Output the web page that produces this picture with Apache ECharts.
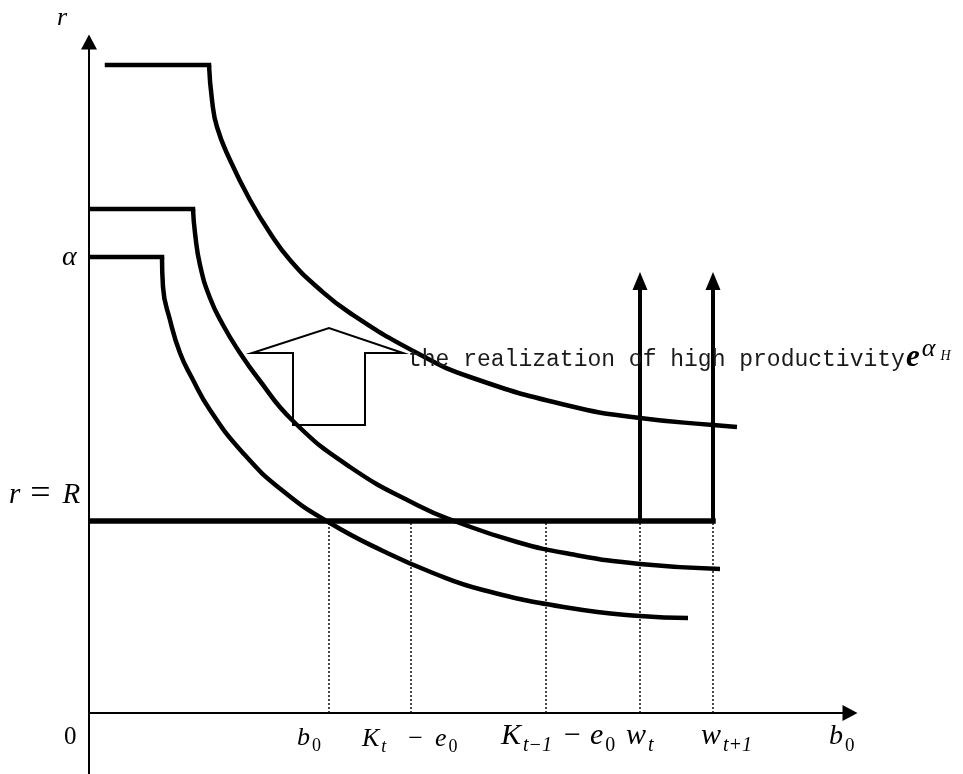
<!DOCTYPE html>
<html>
<head>
<meta charset="utf-8">
<script src="https://cdn.jsdelivr.net/npm/echarts@6/dist/echarts.min.js"></script>
<style>
  html, body { margin: 0; padding: 0; background: #fff; }
  #chart { width: 963px; height: 774px; }
</style>
</head>
<body>
<div id="chart"></div>
<script>
// Loan-rate schedules r(b0) for three productivity draws, with the safe rate r = R.
// Each schedule is flat at its cap and then falls as b0 grows.
const lowPlateau = [[2, 456], [73, 456]];
const lowCurve = [[73, 456], [74, 426], [81, 393], [91, 360], [103, 335], [121, 303], [154, 260],
  [194, 222], [241, 190], [294, 162], [344, 140], [394, 123], [481, 105], [551, 97], [599, 95]];

const midPlateau = [[2, 504], [104, 504]];
const midCurve = [[104, 504], [106, 480], [111, 448], [121, 415], [134, 388], [151, 360], [168, 336],
  [204, 292], [261, 246], [328, 208], [368, 191], [428, 171], [481, 159], [551, 149], [631, 144]];

const highPlateau = [[18, 648], [120, 648]];
const highCurve = [[120, 648], [123, 613], [128, 586], [141, 553], [161, 513], [181, 480], [201, 453],
  [228, 426], [261, 400], [328, 360], [381, 336], [481, 307], [551, 295], [624, 288], [648, 286]];

// safe rate r = R, drawn from the origin up to w_{t+1}
const safeRate = 192;
const safeRateStart = 3;
const safeRateEnd = 624;

// dotted guides: b0, K_t - e0, K_{t-1} - e0, w_t, w_{t+1}
const guideXs = [240, 322, 457, 551, 624];

// vertical supply arrows at w_t and w_{t+1}
const wageArrowXs = [551, 624];
const wageArrowTop = 441;

// outline of the hollow upward arrow (shift of the schedule)
const shiftArrow = [[204, 288], [204, 360], [163, 360], [240, 385], [314, 360], [276, 360], [276, 288]];

// axis and tick labels (rich-text markup)
const xTickLabels = [
  '{i|b}{sn|0}',
  '{i|K}{s|t}{m|−}{e|e}{sn|0}',
  '{i|K}{s|t−1}{m|−}{e|e}{sn|0}',
  '{i|w}{s|t}',
  '{i|w}{s|t+1}',
  '{i|b}{sn|0}'
];
const yTickLabels = ['{i|α}', '{i|r}{q|=}{i|R}', '{n|0}'];
const yAxisName = '{i|r}';
const shiftCaption = 'the realization of high productivity';
const shiftSymbol = '{e|e}{a|α}{h|H}';

const black = '#000';
const serif = '"Liberation Serif", "Times New Roman", serif';

function richStyles(size, gap, egap) {
  const lh = Math.round(size * 1.6);
  const sub = Math.round(size * 0.68);
  const drop = Math.round(size * 0.66);
  return {
    i: { fontFamily: serif, fontStyle: 'italic', fontSize: size, lineHeight: lh, fill: black },
    e: { fontFamily: serif, fontStyle: 'italic', fontSize: size, lineHeight: lh, fill: black,
         padding: [0, 0, 0, egap] },
    n: { fontFamily: serif, fontSize: size, lineHeight: lh, fill: black },
    m: { fontFamily: serif, fontSize: size, lineHeight: lh, fill: black,
         padding: [0, 0, 0, gap] },
    q: { fontFamily: serif, fontSize: Math.round(size * 1.25), lineHeight: lh, fill: black,
         padding: [0, 12, 0, 10] },
    s: { fontFamily: serif, fontStyle: 'italic', fontSize: sub, lineHeight: lh,
         padding: [drop, 0, 0, 2], fill: black },
    sn: { fontFamily: serif, fontSize: sub, lineHeight: lh,
          padding: [drop, 0, 0, 2], fill: black }
  };
}

function mathText(text, x, y, size, gap, egap) {
  return {
    type: 'text', x: x, y: y, z: 20, silent: true,
    style: { text: text, rich: richStyles(size, gap || 0, egap || 0), align: 'left', verticalAlign: 'middle' }
  };
}

function stroke(data, smooth, width) {
  return {
    type: 'line', data: data, smooth: smooth ? 0.5 : false,
    symbol: 'none', silent: true, z: 4,
    lineStyle: { color: black, width: width, cap: smooth ? 'butt' : 'square' }
  };
}

const series = [];

guideXs.forEach(function (x) {
  series.push({
    type: 'line', data: [[x, 0], [x, safeRate]], symbol: 'none', silent: true, z: 1,
    lineStyle: { color: '#111', width: 1.5, type: [2, 2] }
  });
});

series.push({
  type: 'custom', silent: true, z: 2,
  data: [[0, 0]],
  renderItem: function (params, api) {
    const pts = shiftArrow.map(function (p) { return api.coord(p); });
    return { type: 'polygon', shape: { points: pts }, style: { fill: '#fff', stroke: black, lineWidth: 2 } };
  }
});

[[lowPlateau, lowCurve], [midPlateau, midCurve], [highPlateau, highCurve]].forEach(function (pair) {
  series.push(stroke(pair[0], false, 4.5));
  series.push(stroke(pair[1], true, 4.5));
});

series.push(stroke([[safeRateStart, safeRate], [safeRateEnd, safeRate]], false, 5.5));

wageArrowXs.forEach(function (x) {
  series.push({
    type: 'line', silent: true, z: 5, symbol: 'none', showSymbol: true,
    data: [[x, safeRate], { value: [x, wageArrowTop - 9], symbol: 'triangle', symbolSize: [15, 18] }],
    lineStyle: { color: black, width: 4 },
    itemStyle: { color: black }
  });
});

const graphics = [
  mathText(yAxisName, 57, 18, 26),
  mathText(yTickLabels[0], 62, 258, 28),
  mathText(yTickLabels[1], 9, 495, 29),
  mathText(yTickLabels[2], 64, 737, 25),
  mathText(xTickLabels[0], 297, 738, 26),
  mathText(xTickLabels[1], 362, 739, 26, 22, 12),
  mathText(xTickLabels[2], 501, 736, 30, 12, 9),
  mathText(xTickLabels[3], 626, 736, 30),
  mathText(xTickLabels[4], 701, 736, 30),
  mathText(xTickLabels[5], 829, 737, 28),
  {
    type: 'text', x: 408, y: 360, z: 20, silent: true,
    style: { text: shiftCaption, font: '23px "Liberation Mono", "DejaVu Sans Mono", monospace',
             fill: '#1a1a1a', align: 'left', verticalAlign: 'middle' }
  },
  {
    type: 'text', x: 906, y: 358, z: 20, silent: true,
    style: {
      text: shiftSymbol, align: 'left', verticalAlign: 'middle',
      rich: {
        e: { fontFamily: serif, fontStyle: 'italic', fontWeight: 'bold', fontSize: 31, lineHeight: 44, fill: black },
        a: { fontFamily: serif, fontStyle: 'italic', fontSize: 26, lineHeight: 44, padding: [0, 1, 18, 2], fill: black },
        h: { fontFamily: serif, fontStyle: 'italic', fontSize: 14, lineHeight: 44, padding: [0, 0, 3, 4], fill: black }
      }
    }
  }
];

const chart = echarts.init(document.getElementById('chart'));
chart.setOption({
  animation: false,
  backgroundColor: '#fff',
  grid: { left: 89, right: 113, top: 42, bottom: 0, containLabel: false },
  xAxis: {
    type: 'value', min: 0, max: 761,
    axisLine: { show: true, onZero: true, symbol: ['none', 'triangle'], symbolSize: [16, 15],
                lineStyle: { color: black, width: 2 } },
    axisTick: { show: false }, axisLabel: { show: false }, splitLine: { show: false }
  },
  yAxis: {
    type: 'value', min: -61, max: 671,
    axisLine: { show: true, onZero: false, symbol: ['none', 'triangle'], symbolSize: [16, 15],
                lineStyle: { color: black, width: 2 } },
    axisTick: { show: false }, axisLabel: { show: false }, splitLine: { show: false }
  },
  series: series,
  graphic: graphics
});
</script>
</body>
</html>
